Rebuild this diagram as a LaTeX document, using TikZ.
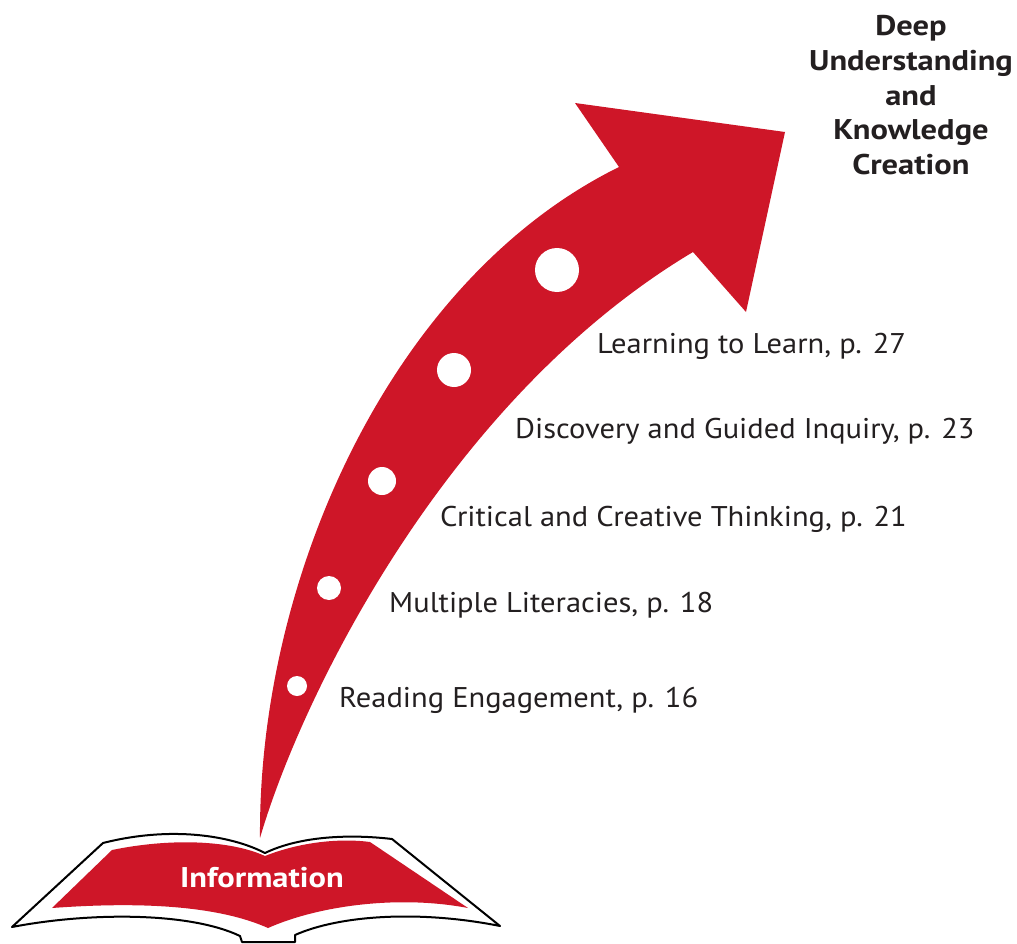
\documentclass[tikz,border=0pt]{standalone}
\usepackage{fontspec}
\setmainfont{PT Sans}[FakeStretch=1.07]
\newfontfamily\ttlfont{PT Sans}[FakeStretch=1.14]
\definecolor{arrred}{RGB}{206,22,40}
\definecolor{txt}{RGB}{35,31,32}
\begin{document}
\begin{tikzpicture}[x=1pt,y=-1pt,
  lbl/.style={anchor=base west,inner sep=0pt,text=txt,font=\fontsize{28.5}{34}\selectfont},
  ttl/.style={anchor=base,inner sep=0pt,text=txt,font=\ttlfont\bfseries\fontsize{28.5}{34}\selectfont},
  dot/.style={circle,fill=white,inner sep=0pt}]
\useasboundingbox (0,0) rectangle (1017,944);
% book outline
\draw[black,line width=2pt,line join=round,fill=white]
  (12,927) -- (103,843) .. controls (170,826) and (230,835) .. (265,853)
  .. controls (300,836) and (350,834) .. (392,839) -- (500,926)
  .. controls (420,910) and (340,915) .. (295,935) -- (295,942) -- (242,942) -- (240,936)
  .. controls (190,912) and (90,912) .. (12,927) -- cycle;
% red pages
\fill[arrred] (52,908) -- (112,850) .. controls (170,838) and (230,840) .. (265,856)
  .. controls (300,842) and (340,838) .. (370,842) -- (468,908)
  .. controls (400,895) and (320,905) .. (268,928)
  .. controls (210,902) and (120,903) .. (52,908) -- cycle;
% arrow
\fill[arrred] (260,838) .. controls (258,580) and (390,280) .. (619,167)
  -- (575,103) -- (785,132) -- (746,312) -- (693,252)
  .. controls (445,400) and (300,700) .. (260,838) -- cycle;
\node[dot,minimum size=44pt] (d5) at (557,270) {};
\node[dot,minimum size=34pt] (d4) at (454,370) {};
\node[dot,minimum size=28pt] (d3) at (382,481) {};
\node[dot,minimum size=24pt] (d2) at (329,588) {};
\node[dot,minimum size=20pt] (d1) at (297,686) {};
% labels
\node[lbl] (l5) at (597,353) {Learning to Learn, p. 27};
\node[lbl] (l4) at (515,438) {Discovery and Guided Inquiry, p. 23};
\node[lbl] (l3) at (440,526) {Critical and Creative Thinking, p. 21};
\node[lbl] (l2) at (389,612) {Multiple Literacies, p. 18};
\node[lbl] (l1) at (339,707) {Reading Engagement, p. 16};
\node[ttl,text=white] (info) at (262,887) {Information};
\node[ttl] (t1) at (911,36) {Deep};
\node[ttl] (t2) at (911,71) {Understanding};
\node[ttl] (t3) at (911,106) {and};
\node[ttl] (t4) at (911,140) {Knowledge};
\node[ttl] (t5) at (911,175) {Creation};
\end{tikzpicture}
\end{document}
